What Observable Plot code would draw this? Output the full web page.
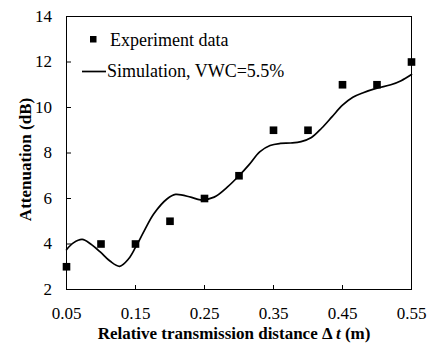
<!DOCTYPE html>
<html>
<head>
<meta charset="utf-8">
<script src="https://cdn.jsdelivr.net/npm/d3@7"></script>
<script src="https://cdn.jsdelivr.net/npm/@observablehq/plot@0.6"></script>
<style>
  body { margin: 0; background: #fff; }
  #chart svg { display: block; }
  #chart svg text, #chart svg tspan { font-family: "Liberation Serif", serif !important; }
</style>
</head>
<body>
<div id="chart"></div>
<script>
// Measured attenuation at each relative transmission distance
const distance = [0.05, 0.10, 0.15, 0.20, 0.25, 0.30, 0.35, 0.40, 0.45, 0.50, 0.55];
const attenuation = [3, 4, 4, 5, 6, 7, 9, 9, 11, 11, 12];

// Simulated attenuation curve (VWC = 5.5%)
const simDistance = [0.05, 0.06, 0.0727, 0.085, 0.0993, 0.113, 0.127, 0.14, 0.15, 0.163, 0.1766,
  0.196, 0.208, 0.23, 0.244, 0.264, 0.283, 0.30, 0.315, 0.33, 0.345, 0.36, 0.375, 0.39, 0.405,
  0.42, 0.435, 0.45, 0.465, 0.48, 0.50, 0.52, 0.535, 0.55];
const simAttenuation = [3.75, 4.05, 4.2, 4.0, 3.64, 3.25, 3.02, 3.35, 3.85, 4.6, 5.33,
  5.99, 6.18, 6.06, 5.94, 6.06, 6.5, 7.0, 7.5, 8.05, 8.33, 8.42, 8.44, 8.5, 8.68,
  9.1, 9.6, 10.1, 10.45, 10.65, 10.85, 11.0, 11.18, 11.45];

const xTicks = [0.05, 0.15, 0.25, 0.35, 0.45, 0.55];
const yTicks = [2, 4, 6, 8, 10, 12, 14];

const measured = distance.map((d, i) => ({d, a: attenuation[i]}));
const simulated = simDistance.map((d, i) => ({d, a: simAttenuation[i]}));

const serif = "'Liberation Serif', serif";
const W = 433, H = 345;
const M = {left: 66, right: 22, top: 16, bottom: 56};
const innerW = W - M.left - M.right;
const innerH = H - M.top - M.bottom;

const plot = Plot.plot({
  width: W,
  height: H,
  marginLeft: M.left,
  marginRight: M.right,
  marginTop: M.top,
  marginBottom: M.bottom,
  style: {fontSize: "17px", color: "#000", background: "#fff", overflow: "visible"},
  x: {domain: [0.05, 0.55]},
  y: {domain: [2, 14]},
  marks: [
    Plot.frame({stroke: "#000", strokeWidth: 1}),
    // short tick marks pointing into the plot area
    Plot.ruleX(xTicks, {x: d => d, insetTop: innerH - 4, stroke: "#000"}),
    Plot.ruleY(yTicks, {y: d => d, insetRight: innerW - 5, stroke: "#000"}),
    // tick labels
    Plot.axisX({ticks: xTicks, tickSize: 0, tickPadding: 17, tickFormat: d3.format(".2f"), label: null,
      fontSize: 17, fill: "#000"}),
    Plot.axisY({ticks: yTicks, tickSize: 0, tickPadding: 14.5, label: null,
      fontSize: 17, fill: "#000"}),
    Plot.line(simulated, {x: "d", y: "a", curve: "catmull-rom", stroke: "#000", strokeWidth: 1.7}),
    Plot.dot(measured, {x: "d", y: "a", symbol: "square", r: 4.3, fill: "#000", stroke: "none"})
  ]
});

const svg = d3.select(plot);

// Axis titles
const xTitle = svg.append("text")
  .attr("x", 234).attr("y", 339)
  .attr("text-anchor", "middle")
  .attr("font-size", 17).attr("font-weight", "bold")
  .attr("fill", "#000");
xTitle.append("tspan").text("Relative transmission distance Δ ");
xTitle.append("tspan").attr("font-style", "italic").text("t");
xTitle.append("tspan").text(" (m)");

svg.append("text")
  .attr("transform", "translate(31,159.5) rotate(-90)")
  .attr("text-anchor", "middle")
  .attr("font-size", 17).attr("font-weight", "bold")
  .attr("fill", "#000")
  .text("Attenuation (dB)");

// Legend
const legend = svg.append("g")
  .attr("font-size", 18).attr("fill", "#000")
  .attr("text-anchor", "start");
legend.append("rect").attr("x", 90).attr("y", 36).attr("width", 6.5).attr("height", 6.5).attr("fill", "#000");
legend.append("text").attr("x", 110).attr("y", 46).text("Experiment data");
legend.append("line").attr("x1", 82).attr("x2", 106).attr("y1", 71.5).attr("y2", 71.5)
  .attr("stroke", "#000").attr("stroke-width", 1.7);
legend.append("text").attr("x", 107).attr("y", 77).text("Simulation, VWC=5.5%");

// Times-style serif for every label in the figure
svg.style("font-family", serif);
svg.selectAll("text, tspan").style("font-family", serif);

document.getElementById("chart").appendChild(plot);
</script>
</body>
</html>
